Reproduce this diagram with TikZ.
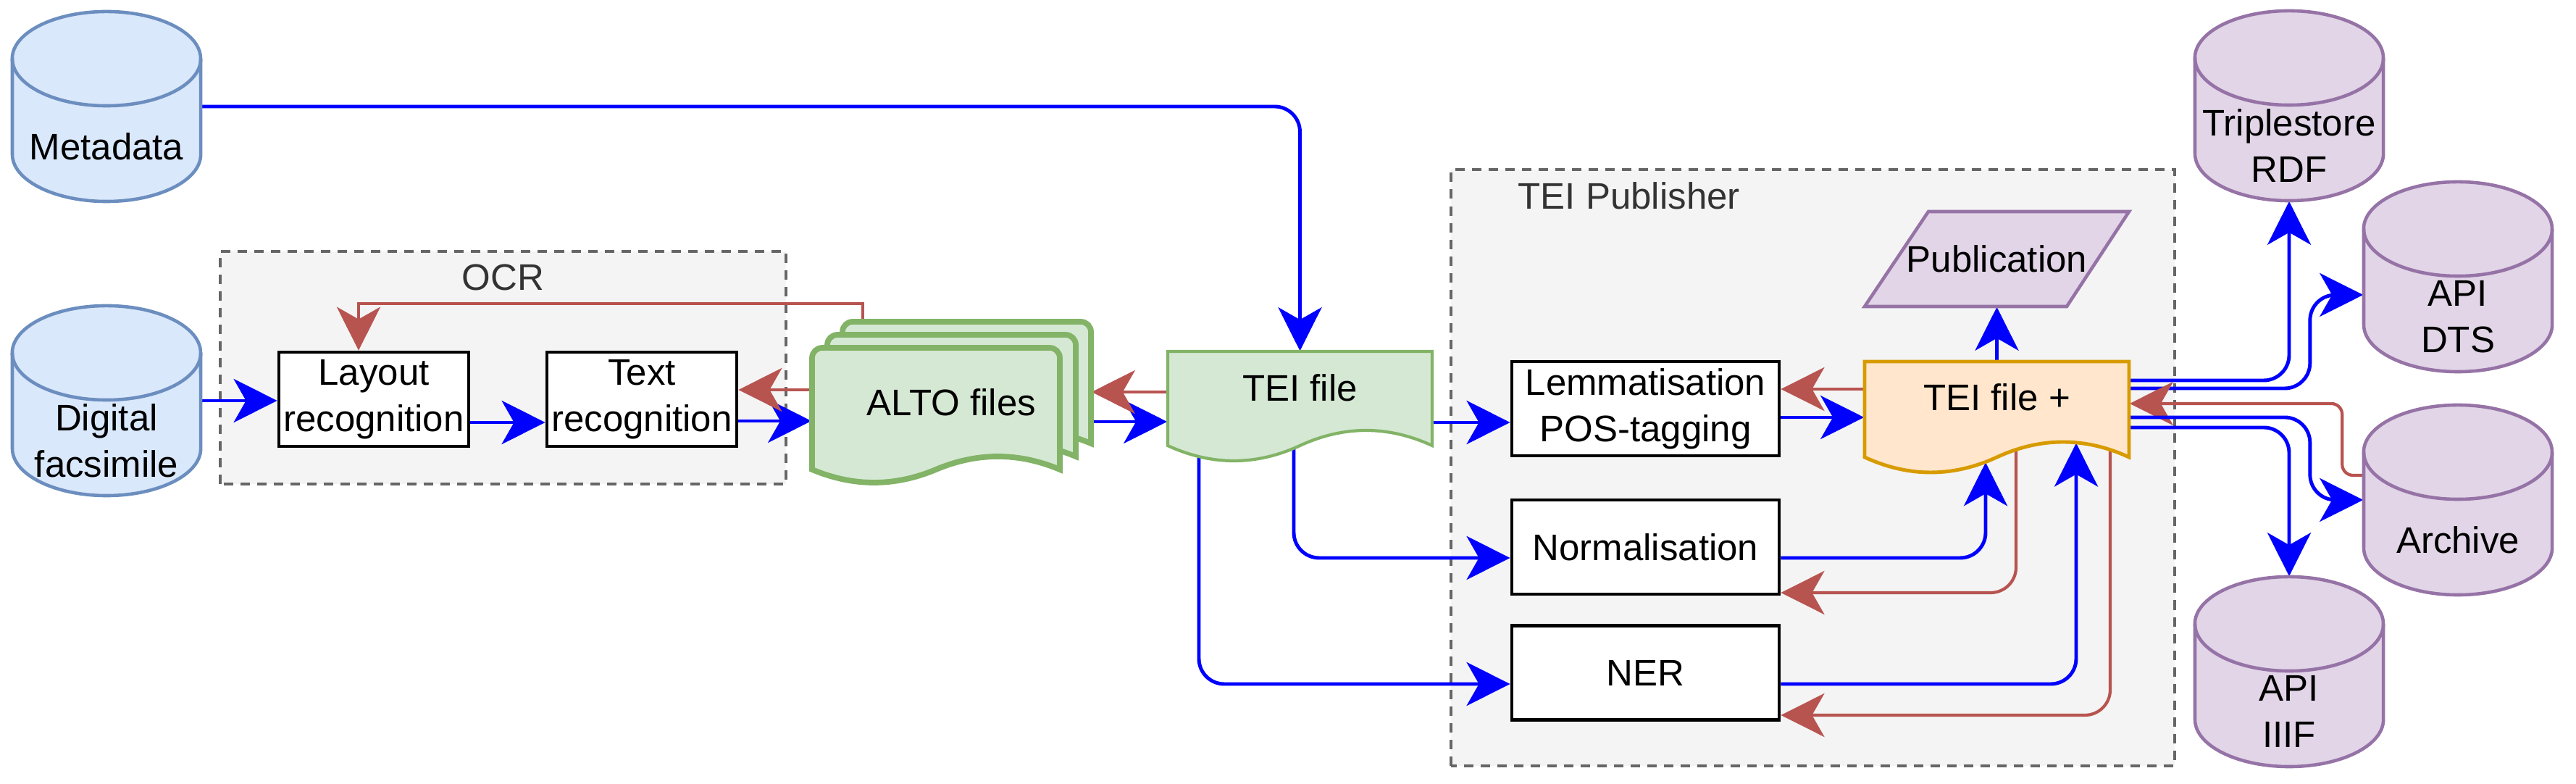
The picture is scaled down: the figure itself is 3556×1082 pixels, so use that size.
\documentclass[tikz,border=0pt]{standalone}
\usepackage{fontspec}
\setmainfont{Liberation Sans}
\usetikzlibrary{arrows.meta,calc}

\definecolor{inblue}{HTML}{DAE8FC}
\definecolor{inblueline}{HTML}{6C8EBF}
\definecolor{outfill}{HTML}{E1D5E7}
\definecolor{outline}{HTML}{9673A6}
\definecolor{docfill}{HTML}{D5E8D4}
\definecolor{docline}{HTML}{82B366}
\definecolor{teipfill}{HTML}{FFE6CC}
\definecolor{teipline}{HTML}{D79B00}
\definecolor{groupfill}{HTML}{F4F4F4}
\definecolor{groupline}{HTML}{666666}
\definecolor{grouptext}{HTML}{333333}
\definecolor{flowblue}{HTML}{0000FF}
\definecolor{backred}{HTML}{B85450}

\pgfdeclarelayer{groups}
\pgfdeclarelayer{wires}
\pgfsetlayers{groups,wires,main}

% database cylinder: style, name, x, y (centre), text
\newcommand{\dbcyl}[5]{%
  \draw[#1] (#3-130,#4+66) -- (#3-130,#4-66)
    arc[start angle=180,end angle=360,x radius=1.3cm,y radius=0.65cm]
    -- (#3+130,#4+66)
    arc[start angle=0,end angle=180,x radius=1.3cm,y radius=0.65cm] -- cycle;
  \draw[#1,fill=none] (#3-130,#4+66)
    arc[start angle=180,end angle=360,x radius=1.3cm,y radius=0.65cm];
  \node[dbnode] (#2) at (#3,#4) {};
  \node[dblabel] (#2-lbl) at (#3,#4-55) {#5};
}
% document: style, left, top, width, straight height, wave
\newcommand{\docshape}[6]{%
  \draw[#1] (#2,#3) -- (#2+#4,#3) -- (#2+#4,#3-#5)
    .. controls (#2+5*#4/6,#3-#5+#6) and (#2+2*#4/3,#3-#5+#6) .. (#2+#4/2,#3-#5)
    .. controls (#2+#4/3,#3-#5-#6) and (#2+#4/6,#3-#5-#6) .. (#2,#3-#5) -- cycle;
}
% one page of the ALTO stack (rounded top)
\newcommand{\altopage}[5]{%
  \draw[#1] (#2,#3-#5) -- (#2,#3-14) arc[start angle=180,end angle=90,radius=0.14cm]
    -- (#2+#4-14,#3) arc[start angle=90,end angle=0,radius=0.14cm]
    -- (#2+#4,#3-#5)
    .. controls (#2+5*#4/6,#3-#5+24) and (#2+2*#4/3,#3-#5+24) .. (#2+#4/2,#3-#5)
    .. controls (#2+#4/3,#3-#5-24) and (#2+#4/6,#3-#5-24) .. (#2,#3-#5) -- cycle;
}

\begin{document}
\begin{tikzpicture}[x=0.01cm, y=0.01cm,
  every node/.style={font=\fontsize{14.5pt}{18.2pt}\selectfont},
  box/.style={draw, line width=1.3pt, fill=white, minimum width=2.62cm,
    minimum height=1.3cm, align=center, inner sep=0pt},
  widebox/.style={box, minimum width=3.69cm},
  dbin/.style={draw=inblueline, fill=inblue, line width=1.3pt},
  dbout/.style={draw=outline, fill=outfill, line width=1.3pt},
  dbnode/.style={minimum width=2.6cm, minimum height=2.62cm, inner sep=0pt},
  dblabel/.style={align=center, inner sep=0pt},
  docnode/.style={minimum width=3.65cm, inner sep=0pt},
  group/.style={draw=groupline, fill=groupfill, line width=1.1pt,
    dash pattern=on 0.13cm off 0.1cm},
  grouplabel/.style={text=grouptext, inner sep=0pt},
  flowarrow/.style={draw=flowblue, line width=1.4pt, rounded corners=0.35cm,
    -{Stealth[length=0.6cm,width=0.6cm,inset=0.17cm]}},
  feedback/.style={draw=backred, line width=1.2pt, rounded corners=0.35cm,
    -{Stealth[length=0.6cm,width=0.6cm,inset=0.17cm]}}]
  \useasboundingbox (0,0) rectangle (3556,1082);

  % groups
  \begin{pgfonlayer}{groups}
    \draw[group] (304,414) rectangle (1085,735);
    \node[grouplabel] (ocr) at (694.5,699) {OCR};
    \draw[group] (2003,25) rectangle (3002,848);
    \node[grouplabel, anchor=west] (pubgroup) at (2095,812) {TEI Publisher};
  \end{pgfonlayer}

  % sources
  \dbcyl{dbin}{meta}{147}{935}{Metadata}
  \dbcyl{dbin}{digi}{147}{529}{Digital\\facsimile}

  % OCR
  \node[box] (lay) at (516,531) {Layout\\recognition};
  \node[box] (txt) at (886,531) {Text\\recognition};

  \altopage{draw=docline, fill=docfill, line width=2.2pt}{1163}{638}{343}{168}
  \altopage{draw=docline, fill=docfill, line width=2.2pt}{1142}{620}{343}{168}
  \altopage{draw=docline, fill=docfill, line width=2.2pt}{1121}{602}{342}{168}
  \node[minimum width=3.85cm, minimum height=2.22cm, inner sep=0pt] (alto) at (1313.5,527) {ALTO files};

  \docshape{draw=docline, fill=docfill, line width=1.2pt}{1612}{597}{365}{130}{28}
  \node[docnode, minimum height=1cm] (tei) at (1794.5,547) {TEI file};

  % TEI Publisher
  \node[widebox] (lem) at (2271.5,518) {Lemmatisation\\POS-tagging};
  \node[widebox] (norm) at (2271.5,327) {Normalisation};
  \node[widebox] (ner) at (2271.5,153.5) {NER};

  \docshape{draw=teipline, fill=teipfill, line width=1.4pt}{2574}{583}{365}{132}{28}
  \node[docnode, minimum height=0.98cm] (teip) at (2756.5,534) {TEI file +};

  \draw[draw=outline, fill=outfill, line width=1.3pt]
    (2574,659) -- (2853,659) -- (2939,790) -- (2662,790) -- cycle;
  \node[minimum width=3.65cm, minimum height=1.31cm, inner sep=0pt] (pub) at (2756.5,724.5) {Publication};

  % outputs
  \dbcyl{dbout}{trip}{3160}{936}{Triplestore\\RDF}
  \dbcyl{dbout}{dts}{3393}{700}{API\\DTS}
  \dbcyl{dbout}{arch}{3393}{392}{Archive}
  \dbcyl{dbout}{iiif}{3160}{155}{API\\IIIF}

  \begin{pgfonlayer}{wires}
    \draw[flowarrow] (meta.east) -| (tei.north);
    \draw[flowarrow] (digi.east) -- (digi.east -| lay.west);
    \draw[flowarrow] ($(lay.east)+(0,-32)$) -- ($(txt.west)+(0,-32)$);
    \draw[flowarrow] ($(txt.east)+(0,-30)$) -- ($(alto.west)+(0,-26)$);
    \draw[feedback] ($(alto.west)+(0,17)$) -- ($(txt.east)+(0,13)$);
    \draw[feedback, rounded corners=0pt] ($(alto.north)+(-122.5,0)$) -- ++(0,24) -| ($(lay.north)+(-21,0)$);
    \draw[flowarrow] ($(alto.east)+(0,-27)$) -- ($(tei.west)+(0,-47)$);
    \draw[feedback] ($(tei.west)+(0,-6)$) -- ($(alto.east)+(0,14)$);

    \draw[flowarrow] ($(tei.east)+(0,-48)$) -- ($(lem.west)+(0,-19)$);
    \draw[flowarrow] ($(tei.south)+(-8.5,0)$) |- ($(norm.west)+(0,-15)$);
    \draw[flowarrow] ($(tei.south)+(-139.5,0)$) |- ($(ner.west)+(0,-15.5)$);

    \draw[flowarrow] ($(lem.east)+(0,-12)$) -- ($(teip.west)+(0,-28)$);
    \draw[feedback] ($(teip.west)+(0,11)$) -- ($(lem.east)+(0,27)$);
    \draw[flowarrow] (teip.north) -- (pub.south);
    \draw[flowarrow] ($(norm.east)+(0,-15)$) -| ($(teip.south)+(-15.5,-40.5)$);
    \draw[feedback] ($(teip.south)+(26.5,0)$) |- ($(norm.east)+(0,-63)$);
    \draw[flowarrow] ($(ner.east)+(0,-15.5)$) -| ($(teip.south)+(109.5,-13.8)$);
    \draw[feedback] ($(teip.south)+(156.5,0)$) |- ($(ner.east)+(0,-58.5)$);

    \draw[flowarrow] ($(teip.east)+(0,23)$) -| (trip.south);
    \draw[flowarrow] ($(teip.east)+(0,12)$) -- ++(249,0) |- ($(dts.west)+(0,-25)$);
    \draw[feedback, rounded corners=0.15cm] ($(arch.west)+(0,34)$) -- ++(-29,0) |- ($(teip.east)+(0,-9)$);
    \draw[flowarrow] ($(teip.east)+(0,-28)$) -- ++(249,0) |- (arch.west);
    \draw[flowarrow] ($(teip.east)+(0,-42)$) -| (iiif.north);
  \end{pgfonlayer}
\end{tikzpicture}
\end{document}
